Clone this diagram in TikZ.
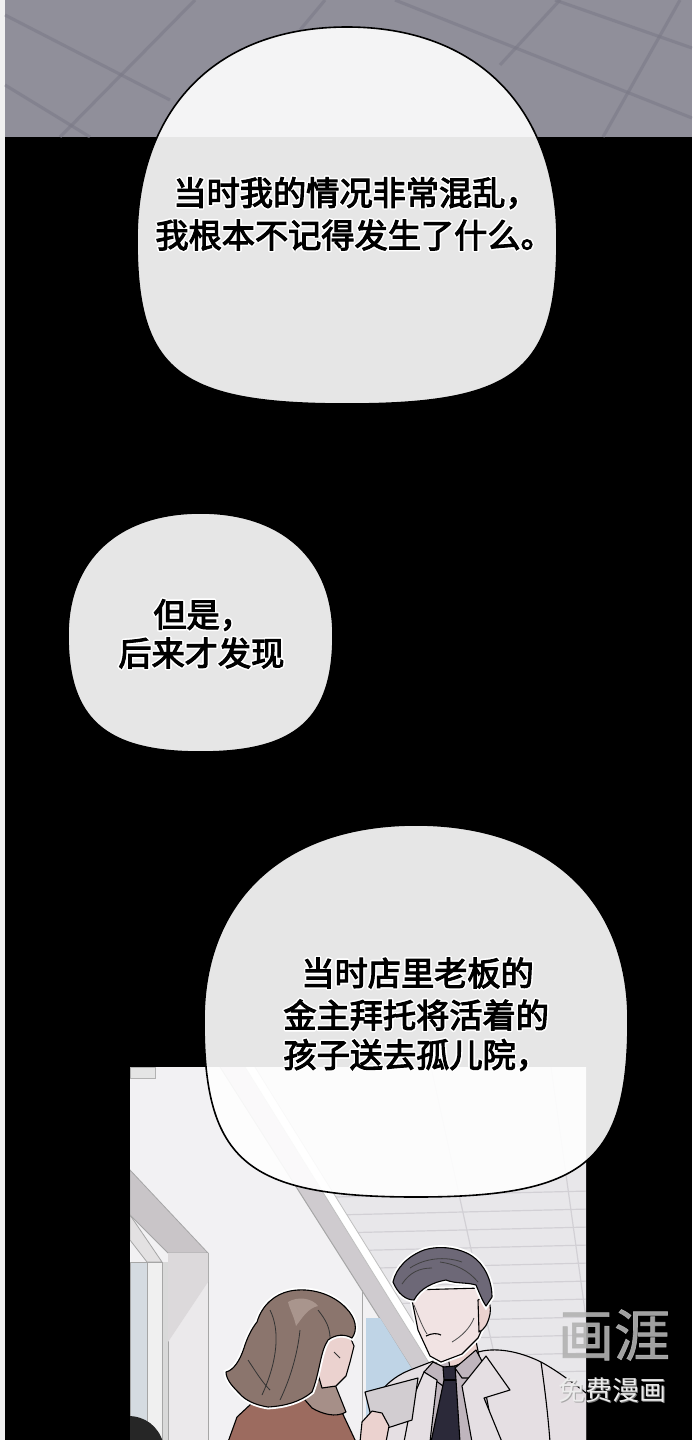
\documentclass[tikz,border=0pt]{standalone}
\usepackage{fontspec}
\newfontfamily\cjk{Noto Sans CJK SC}[FakeBold=3.2]
\newfontfamily\cjkl{Noto Sans CJK SC}
\newfontfamily\cjkm{Noto Sans CJK SC}[FakeBold=1.2]
\definecolor{tile}{HTML}{908F9A}
\definecolor{tileline}{HTML}{7A7986}
\definecolor{panelbg}{HTML}{F2F1F3}
\definecolor{ceil}{HTML}{E8E7EA}
\definecolor{ceilline}{HTML}{D2D0D5}
\definecolor{beam}{HTML}{CFCBCF}
\definecolor{soffit}{HTML}{C9C5C8}
\definecolor{frameface}{HTML}{EBE9EB}
\definecolor{frameshade}{HTML}{DCD9DB}
\definecolor{winblue}{HTML}{BFD4E6}
\definecolor{wingrey}{HTML}{D5DBE1}
\definecolor{coat}{HTML}{9C6B5F}
\definecolor{fur}{HTML}{A68F88}
\definecolor{whair}{HTML}{8B756D}
\definecolor{whairhi}{HTML}{A9958D}
\definecolor{skin}{HTML}{EBD2CF}
\definecolor{mskin}{HTML}{F1E3E3}
\definecolor{mhair}{HTML}{6D6877}
\definecolor{suit}{HTML}{E5DFE3}
\definecolor{shirt}{HTML}{BFB5BD}
\definecolor{tie}{HTML}{2B2939}
\definecolor{paper}{HTML}{D2CDD1}
\newcommand\bubble[8]{% cx, cy, a, btop, bbot, ktop, kbot, options
  \path[#8] ({#1+#3},{#2}) .. controls ({#1+#3},{#2-#6*#4}) and ({#1+#6*#3},{#2-#4}) .. ({#1},{#2-#4})
   .. controls ({#1-#6*#3},{#2-#4}) and ({#1-#3},{#2-#6*#4}) .. ({#1-#3},{#2})
   .. controls ({#1-#3},{#2+#7*#5}) and ({#1-#7*#3},{#2+#5}) .. ({#1},{#2+#5})
   .. controls ({#1+#7*#3},{#2+#5}) and ({#1+#3},{#2+#7*#5}) .. cycle;}
% speech line with white outline: name, x, y, text
\newcommand\sayline[4]{%
  \foreach \dx/\dy in {-1.6/0,1.6/0,0/-1.6,0/1.6,-1.1/-1.1,1.1/-1.1,-1.1/1.1,1.1/1.1}
    \node[speech,text=white] at ({#2+\dx},{#3+\dy}) {#4};
  \node[speech] (#1) at (#2,#3) {#4};}
\begin{document}
\begin{tikzpicture}[x=0.5pt,y=-0.5pt,
  bubblestyle/.style={fill=white,fill opacity=0.9,draw=black,line width=0.8pt,draw opacity=1},
  speech/.style={font=\cjk\fontsize{16.6pt}{20pt}\selectfont,inner sep=0pt,anchor=west,text=black},
  ink/.style={draw=black,line width=0.55pt,line join=round},
  halo/.style={preaction={draw=white,line width=2.4pt}},
  tl/.style={draw=tileline,line width=1.6pt,opacity=0.55}]
\useasboundingbox (0,0) rectangle (692,1440);
% page background
\fill[black] (0,0) rectangle (692,1440);
\fill[white!94!black] (0,0) rectangle (4.5,1440);
% top tiled floor
\fill[tile] (4.5,0) rectangle (692,137);
\begin{scope}
\clip (4.5,0) rectangle (692,137);
\draw[tl] (5,15) -- (170,100);
\draw[tl] (5,85) -- (90,137);
\draw[tl] (395,0) -- (692,118);
\draw[tl] (555,0) -- (692,48);
\draw[tl] (60,137) -- (195,0);
\draw[tl] (300,30) -- (325,0);
\draw[tl] (500,65) -- (560,0);
\draw[tl] (603,137) -- (680,0);
\end{scope}
% ===== bottom panel =====
\begin{scope}
\clip (130,1067) rectangle (586,1440);
\fill[panelbg] (130,1067) rectangle (586,1440);
% ceiling with tiles
\path[fill=ceil] (255,1067) -- (586,1067) -- (586,1440) -- (487,1440) -- cycle;
\begin{scope}
\clip (255,1067) -- (586,1067) -- (586,1440) -- (487,1440) -- cycle;
\foreach \yy in {1195,1213,1231,1249,1267,1285,1303,1321,1339,1357,1375,1393,1411,1429}
  \draw[ceilline,line width=0.6pt] (250,\yy+4) -- (590,\yy-4);
\draw[ceilline,line width=0.6pt] (431,1067) -- (513,1440);
\draw[ceilline,line width=0.6pt] (551,1067) -- (603,1440);
\end{scope}
% beam
\path[fill=beam] (220,1067) -- (245,1067) -- (477,1440) -- (457,1440) -- cycle;
\path[fill=white] (245,1067) -- (255,1067) -- (487,1440) -- (477,1440) -- cycle;
\draw[gray!70,line width=0.5pt] (220,1067) -- (457,1440);
\draw[gray!50,line width=0.4pt] (245,1067) -- (477,1440);
\draw[gray!50,line width=0.4pt] (255,1067) -- (487,1440);
% window behind the woman
\path[fill=winblue] (366,1318) -- (380,1318) -- (417,1377) -- (417,1440) -- (366,1440) -- cycle;
\draw[gray!70,line width=0.5pt] (362,1290) -- (362,1440);
% small sign top-left
\path[fill=gray!20,draw=gray!60,line width=0.4pt] (130,1067) rectangle (155,1078);
% left door frame
\path[fill=soffit,draw=gray!70,line width=0.4pt] (130,1170) -- (208,1253) -- (168,1253) -- (130,1215) -- cycle;
\path[fill=frameface,draw=gray!70,line width=0.4pt] (168,1253) rectangle (208,1445);
\path[fill=frameshade] (168,1253) -- (208,1253) -- (208,1282) -- (168,1342) -- cycle;
\path[fill=gray!30] (162,1262) rectangle (168,1445);
\path[fill=frameshade!80!white,draw=gray!70,line width=0.4pt] (130,1215) -- (162,1262) -- (147,1262) -- (130,1240) -- cycle;
\path[fill=gray!12,draw=gray!70,line width=0.4pt] (147,1262) rectangle (162,1445);
\path[fill=wingrey,draw=gray!70,line width=0.4pt] (130,1262) rectangle (147,1445);
% dark shape bottom-left
\path[fill=black!85] (128,1416) .. controls (145,1416) and (158,1426) .. (163,1442) -- (128,1442) -- cycle;
% ---- woman ----
\path[ink,fill=coat] (228,1442) -- (237,1417) -- (252,1403) -- (300,1389) -- (318,1386) -- (340,1408) -- (356,1442) -- cycle;
\path[ink,fill=fur] (298,1392) .. controls (305,1382) and (320,1376) .. (334,1382) -- (346,1412) .. controls (336,1418) and (322,1414) .. (312,1408) -- cycle;
\path[ink,fill=skin] (318,1330) -- (348,1332) -- (354,1346) -- (350,1362) -- (346,1376) -- (336,1386) -- (322,1388) -- (314,1360) -- cycle;
\path[ink,halo,fill=whair] (257,1322) .. controls (262,1305) and (275,1294) .. (290,1291)
  .. controls (310,1287) and (333,1294) .. (346,1308)
  .. controls (356,1318) and (358,1330) .. (352,1338)
  .. controls (345,1334) and (336,1334) .. (328,1340)
  .. controls (320,1352) and (320,1372) .. (312,1392)
  .. controls (300,1402) and (285,1406) .. (268,1407)
  .. controls (255,1405) and (245,1400) .. (240,1394)
  .. controls (234,1388) and (226,1380) .. (226,1372)
  .. controls (234,1370) and (240,1360) .. (244,1348)
  .. controls (247,1338) and (252,1328) .. cycle;
\path[fill=whairhi] (288,1302) .. controls (298,1296) and (312,1298) .. (318,1306) .. controls (308,1308) and (302,1318) .. (296,1326) .. controls (294,1316) and (290,1310) .. cycle;
\draw[black!80,line width=0.4pt] (270,1310) .. controls (280,1330) and (278,1360) .. (262,1395);
\draw[black!80,line width=0.4pt] (300,1330) .. controls (298,1350) and (292,1375) .. (280,1400);
\draw[black!80,line width=0.4pt] (318,1310) .. controls (326,1320) and (330,1328) .. (330,1338);
\draw[black!80,line width=0.4pt] (248,1360) .. controls (256,1372) and (262,1382) .. (270,1390);
\draw[black!80,line width=0.4pt] (334,1352) -- (340,1358);
% ---- man ----
\path[ink,fill=suit] (380,1442) -- (380,1392) .. controls (390,1380) and (400,1374) .. (410,1370)
  -- (436,1360) -- (478,1352) .. controls (500,1346) and (525,1354) .. (541,1362)
  .. controls (556,1370) and (572,1382) .. (590,1396) -- (590,1442) -- cycle;
\path[ink,fill=shirt] (432,1364) -- (478,1352) -- (495,1442) -- (420,1442) -- cycle;
\path[ink,fill=skin] (445,1340) -- (475,1336) -- (479,1356) -- (450,1368) -- cycle;
\path[ink,fill=shirt] (433,1362) -- (450,1370) -- (443,1386) -- (424,1372) -- cycle;
\path[ink,fill=shirt] (476,1350) -- (491,1378) -- (462,1378) -- (455,1368) -- cycle;
\path[ink,fill=tie] (443,1367) -- (455,1366) -- (456,1380) -- (460,1442) -- (431,1442) -- (444,1380) -- cycle;
\draw[ink] (444,1380) -- (456,1380);
\path[ink,fill=suit] (424,1372) -- (437,1380) -- (430,1442) -- (404,1442) -- (412,1400) -- cycle;
\path[ink,fill=suit] (486,1356) -- (510,1390) -- (484,1398) -- (502,1442) -- (472,1442) -- (462,1386) -- cycle;
\draw[ink] (541,1362) .. controls (545,1390) and (548,1415) .. (550,1442);
\path[ink,halo,fill=mskin] (410,1290) -- (482,1288) -- (486,1320) -- (478,1338) -- (462,1354) -- (441,1362) -- (430,1356) -- (418,1330) -- cycle;
\path[ink,fill=skin] (478,1300) .. controls (486,1294) and (492,1302) .. (490,1314) .. controls (488,1324) and (484,1330) .. (479,1332) -- cycle;
\draw[ink] (426,1336) .. controls (432,1333) and (437,1333) .. (441,1335);
\draw[black!70,line width=0.4pt] (414,1305) .. controls (419,1318) and (423,1328) .. (427,1334);
\draw[black!70,line width=0.4pt] (452,1342) .. controls (462,1336) and (470,1328) .. (474,1318);
\path[ink,halo,fill=mhair] (393,1282) .. controls (396,1268) and (408,1256) .. (424,1250)
  .. controls (440,1245) and (460,1248) .. (472,1256)
  .. controls (484,1264) and (492,1280) .. (492,1297)
  -- (486,1306) .. controls (482,1300) and (479,1292) .. (476,1285)
  .. controls (466,1282) and (456,1284) .. (446,1280)
  .. controls (434,1282) and (420,1288) .. (414,1300)
  .. controls (406,1300) and (398,1294) .. cycle;
\draw[black!75,line width=0.4pt] (410,1268) .. controls (425,1258) and (445,1256) .. (462,1262);
\draw[black!75,line width=0.4pt] (402,1284) .. controls (410,1272) and (420,1268) .. (432,1268);
\draw[black!75,line width=0.4pt] (440,1262) .. controls (455,1264) and (468,1270) .. (478,1282);
% paper and hand
\path[ink,fill=paper] (365,1392) -- (418,1378) -- (412,1420) -- (375,1432) -- cycle;
\path[ink,fill=skin] (360,1442) -- (362,1422) -- (372,1411) -- (382,1413) -- (389,1426) -- (386,1442) -- cycle;
\end{scope}
% ===== speech bubbles =====
\bubble{347}{240}{210}{213}{164}{0.62}{0.8}{bubblestyle}
\bubble{200.5}{635}{132.5}{122}{117}{0.62}{0.72}{bubblestyle}
\bubble{416}{1020}{212}{195}{177}{0.62}{0.8}{bubblestyle}
% ===== texts =====
\sayline{t1a}{173}{193}{当时我的情况非常混乱，}
\sayline{t1b}{155}{235}{我根本不记得发生了什么。}
\sayline{t2a}{153}{615}{但是，}
\sayline{t2b}{118}{653}{后来才发现}
\sayline{t3a}{301}{973}{当时店里老板的}
\sayline{t3b}{283}{1015}{金主拜托将活着的}
\sayline{t3c}{283}{1055}{孩子送去孤儿院，}
% ===== watermark =====
\node[font=\cjkm\fontsize{28pt}{30pt}\selectfont,text=gray!60,text opacity=0.9,inner sep=0pt] (wm1) at (614,1335) {画涯};
\node[font=\cjkl\fontsize{13.5pt}{15pt}\selectfont,text=gray!80,text opacity=0.8,inner sep=0pt] (wm2s) at (613.5,1391.5) {免费漫画};
\node[font=\cjkl\fontsize{13.5pt}{15pt}\selectfont,text=gray!15,inner sep=0pt] (wm2) at (612,1390) {免费漫画};
\end{tikzpicture}
\end{document}
